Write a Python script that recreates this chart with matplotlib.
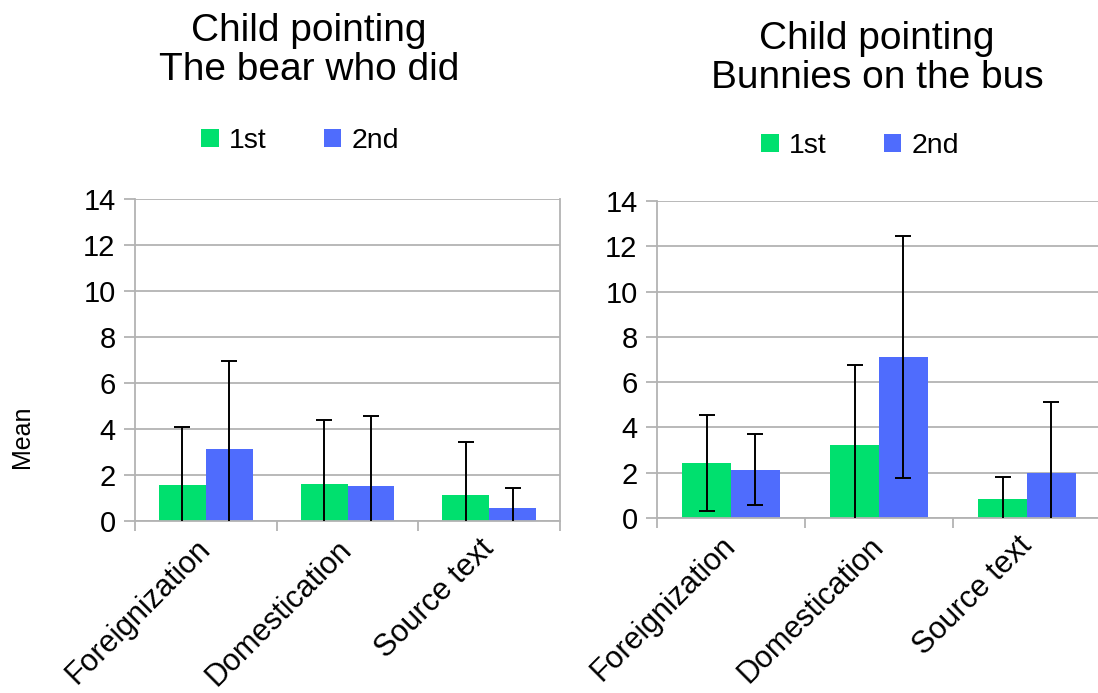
import matplotlib
matplotlib.use("Agg")
import matplotlib.pyplot as plt
import numpy as np

plt.rcParams['font.family'] = ['Liberation Sans', 'DejaVu Sans']

categories = ['Foreignization', 'Domestication', 'Source text']
series_names = ['1st', '2nd']

# "The bear who did"
bear_1st = [1.58, 1.61, 1.13]
bear_2nd = [3.14, 1.52, 0.57]
bear_1st_err = [2.52, 2.78, 2.29]
bear_2nd_err = [3.83, 3.03, 0.85]

# "Bunnies on the bus"
bunnies_1st = [2.44, 3.23, 0.84]
bunnies_2nd = [2.14, 7.12, 2.00]
bunnies_1st_err = [2.12, 3.51, 0.95]
bunnies_2nd_err = [1.57, 5.35, 3.14]

y_ticks = [0, 2, 4, 6, 8, 10, 12, 14]

GREEN = '#00e06e'
BLUE = '#4f6cfd'
GRID = '#b3b3b3'

W, H = 1098, 693
fig = plt.figure(figsize=(W / 100, H / 100), dpi=100)


def px_axes(x0, x1, y0, y1):
    # pixel box (top-left origin) -> figure fraction
    return fig.add_axes([x0 / W, 1 - y1 / H, (x1 - x0) / W, (y1 - y0) / H])


def draw_panel(ax, first, second, first_err, second_err):
    x = np.arange(len(categories))
    w = 0.33
    ax.bar(x - w / 2, first, w, color=GREEN, zorder=2, label=series_names[0])
    ax.bar(x + w / 2, second, w, color=BLUE, zorder=2, label=series_names[1])
    eb = dict(fmt='none', ecolor='black', elinewidth=1.4, capsize=6, capthick=1.4, zorder=3)
    ax.errorbar(x - w / 2, first, yerr=first_err, **eb)
    ax.errorbar(x + w / 2, second, yerr=second_err, **eb)

    ax.set_xlim(-0.5, len(categories) - 0.5)
    ax.set_ylim(0, 14)
    ax.set_yticks(y_ticks)
    ax.yaxis.grid(True, color=GRID, linewidth=1.3, zorder=0)
    ax.set_axisbelow(True)
    for s in ax.spines.values():
        s.set_color(GRID)
        s.set_linewidth(1.3)
    ax.spines['top'].set_visible(False)
    ax.tick_params(axis='y', length=8, width=1.3, color=GRID, labelsize=21, pad=6)

    # category labels in the middle, separator ticks between categories
    ax.set_xticks(x)
    ax.set_xticklabels(categories, rotation=45, ha='right', va='center',
                       rotation_mode='anchor', fontsize=22)
    ax.tick_params(axis='x', which='major', length=0, pad=17)
    ax.set_xticks(np.arange(-0.5, len(categories)), minor=True)
    ax.tick_params(axis='x', which='minor', length=7, width=1.3, color=GRID)


ax1 = px_axes(135, 560, 199, 521)
draw_panel(ax1, bear_1st, bear_2nd, bear_1st_err, bear_2nd_err)

ax2 = px_axes(657, 1101, 201, 518)
draw_panel(ax2, bunnies_1st, bunnies_2nd, bunnies_1st_err, bunnies_2nd_err)

title_kw = dict(ha='center', va='baseline', fontsize=28, linespacing=1.1)
fig.text(309 / W, 1 - 80 / H, 'Child pointing\nThe bear who did', **title_kw)
fig.text(877 / W, 1 - 88 / H, 'Child pointing\nBunnies on the bus', **title_kw)

leg_kw = dict(loc='center', ncol=2, frameon=False, fontsize=20.5,
              handlelength=0.62, handleheight=0.62, handletextpad=0.35,
              columnspacing=2.0, bbox_transform=fig.transFigure)
ax1.legend(bbox_to_anchor=(300 / W, 1 - 141 / H), **leg_kw)
ax2.legend(bbox_to_anchor=(860 / W, 1 - 146 / H), **leg_kw)

fig.text(22 / W, 1 - 437 / H, 'Mean', rotation=90, ha='center', va='center', fontsize=18)

fig.savefig('out.png', dpi=100)
